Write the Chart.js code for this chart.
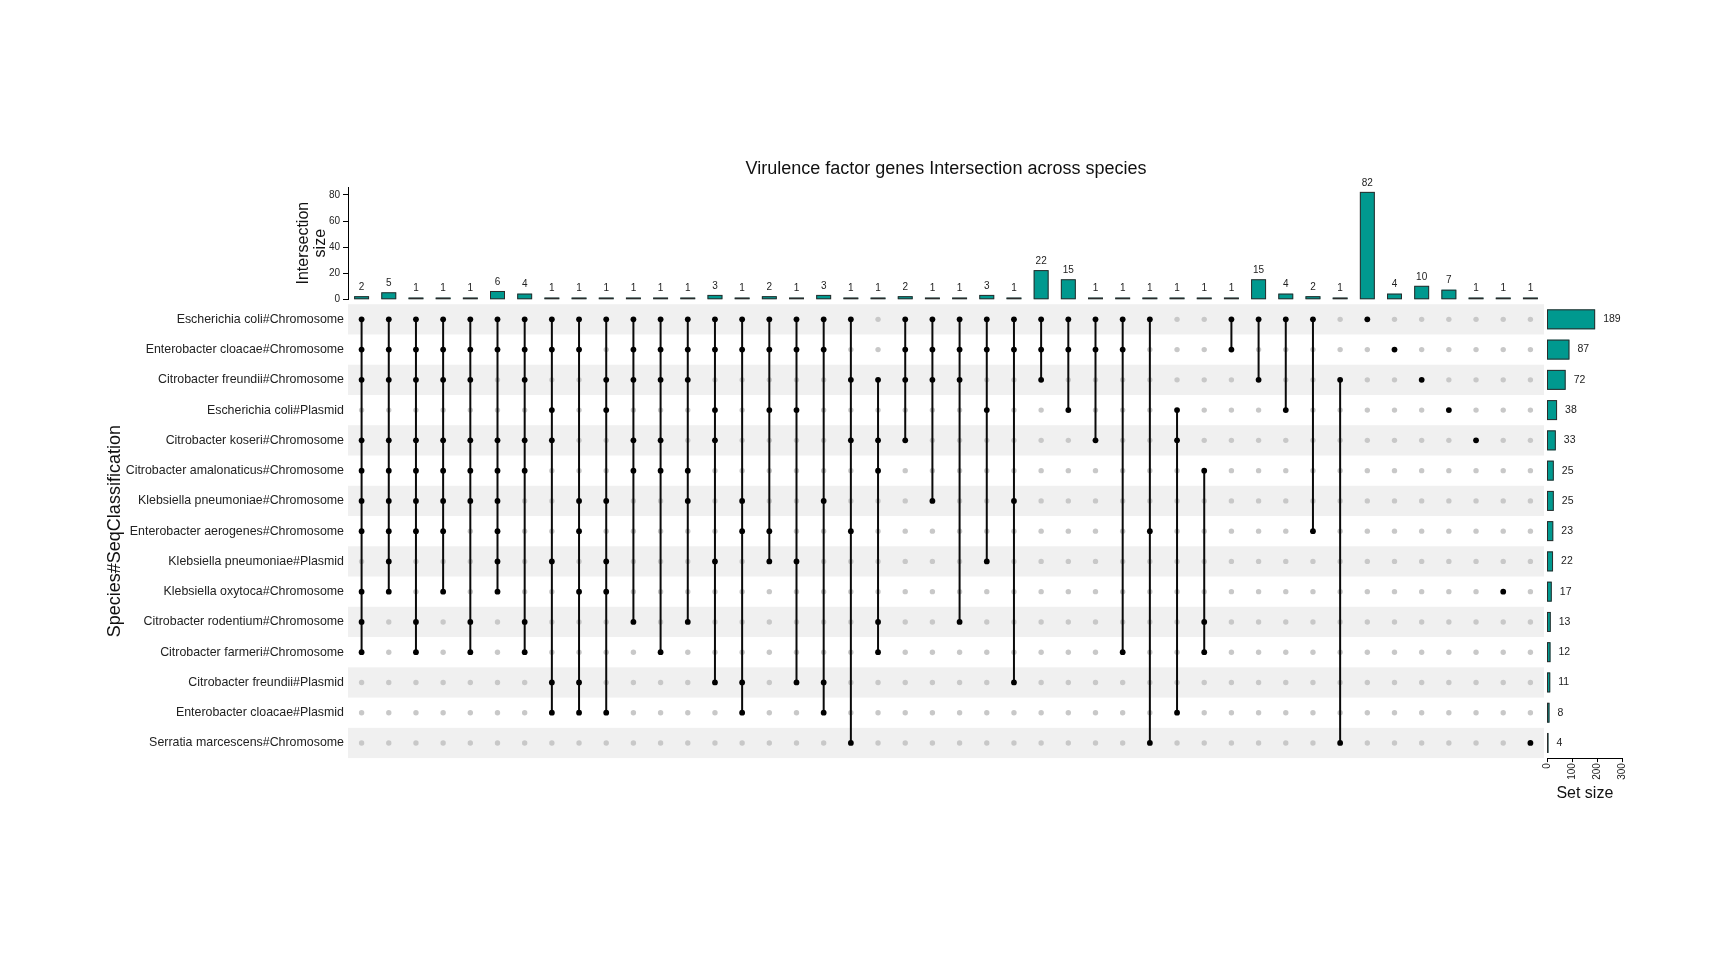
<!DOCTYPE html>
<html>
<head>
<meta charset="utf-8">
<script src="https://cdn.jsdelivr.net/npm/chart.js@4.4.1/dist/chart.umd.min.js"></script>
<style>
  html, body { margin: 0; padding: 0; background: #ffffff; }
  #wrap { position: relative; width: 1728px; height: 960px; overflow: hidden; }
  canvas { position: absolute; left: 0; top: 0; }
</style>
</head>
<body>
<div id="wrap">
  <canvas id="cMatrix" width="1728" height="960"></canvas>
  <canvas id="cTop" width="1728" height="960"></canvas>
  <canvas id="cSet" width="1728" height="960"></canvas>
</div>
<script>
// ---------------- DATA ----------------
const chartTitle = 'Virulence factor genes Intersection across species';
const setNames = [
  'Escherichia coli#Chromosome',
  'Enterobacter cloacae#Chromosome',
  'Citrobacter freundii#Chromosome',
  'Escherichia coli#Plasmid',
  'Citrobacter koseri#Chromosome',
  'Citrobacter amalonaticus#Chromosome',
  'Klebsiella pneumoniae#Chromosome',
  'Enterobacter aerogenes#Chromosome',
  'Klebsiella pneumoniae#Plasmid',
  'Klebsiella oxytoca#Chromosome',
  'Citrobacter rodentium#Chromosome',
  'Citrobacter farmeri#Chromosome',
  'Citrobacter freundii#Plasmid',
  'Enterobacter cloacae#Plasmid',
  'Serratia marcescens#Chromosome'
];
const setSizes = [189, 87, 72, 38, 33, 25, 25, 23, 22, 17, 13, 12, 11, 8, 4];
const intersectionSizes = [2, 5, 1, 1, 1, 6, 4, 1, 1, 1, 1, 1, 1, 3, 1, 2, 1, 3, 1, 1, 2, 1,
                           1, 3, 1, 22, 15, 1, 1, 1, 1, 1, 1, 15, 4, 2, 1, 82, 4, 10, 7, 1, 1, 1];
// indices into setNames for each intersection column (left to right)
const intersectionMembers = [
  [0,1,2,4,5,6,7,9,10,11], [0,1,2,4,5,6,7,8,9], [0,1,2,4,5,6,7,10,11], [0,1,2,4,5,6,7,9],
  [0,1,2,4,5,6,10,11], [0,1,4,5,6,7,8,9], [0,1,2,4,5,10,11], [0,1,3,4,8,12,13],
  [0,1,6,7,9,12,13], [0,2,3,6,8,9,13], [0,1,2,4,5,10], [0,1,2,4,5,11],
  [0,1,2,5,6,10], [0,1,3,4,8,12], [0,1,6,7,12,13], [0,1,3,7,8],
  [0,1,3,8,12], [0,1,6,12,13], [0,2,4,7,14], [2,4,5,10,11],
  [0,1,2,4], [0,1,2,6], [0,1,2,10], [0,1,3,8],
  [0,1,6,12], [0,1,2], [0,1,3], [0,1,4],
  [0,1,11], [0,7,14], [3,4,13], [5,10,11],
  [0,1], [0,2], [0,3], [0,7],
  [2,14], [0], [1], [2],
  [3], [4], [9], [14]
];
const intersectionTicks = [0, 20, 40, 60, 80];
const setSizeTicks = [0, 100, 200, 300];

// ---------------- STYLE ----------------
const FONT = '"Liberation Sans", Arial, Helvetica, sans-serif';
Chart.defaults.font.family = FONT;
Chart.defaults.color = '#222';
const TEAL = '#00998F';
const BORDER = '#2b2b2b';
const nCols = intersectionSizes.length;
const nRows = setNames.length;

// ---------------- PLUGINS ----------------
// outline every bar with a line centred on its edges (ggplot-like), then its value label
const topLabels = {
  id: 'topLabels',
  afterDatasetsDraw(chart) {
    const meta = chart.getDatasetMeta(0);
    const ctx = chart.ctx;
    ctx.save();
    ctx.strokeStyle = BORDER;
    ctx.lineWidth = 1;
    meta.data.forEach(el => {
      const p = el.getProps(['x', 'y', 'base', 'width'], true);
      ctx.strokeRect(p.x - p.width / 2, p.y, p.width, p.base - p.y);
    });
    ctx.font = '10px ' + FONT;
    ctx.fillStyle = '#222';
    ctx.textAlign = 'center';
    ctx.textBaseline = 'middle';
    meta.data.forEach((el, i) => {
      ctx.fillText(String(intersectionSizes[i]), el.x, el.y - 9.5);
    });
    ctx.restore();
  }
};

const setLabels = {
  id: 'setLabels',
  afterDatasetsDraw(chart) {
    const meta = chart.getDatasetMeta(0);
    const ctx = chart.ctx;
    ctx.save();
    ctx.strokeStyle = BORDER;
    ctx.lineWidth = 1;
    meta.data.forEach(el => {
      const p = el.getProps(['x', 'y', 'base', 'height'], true);
      ctx.strokeRect(p.base, p.y - p.height / 2, p.x - p.base, p.height);
    });
    ctx.font = '10.5px ' + FONT;
    ctx.fillStyle = '#222';
    ctx.textAlign = 'left';
    ctx.textBaseline = 'middle';
    meta.data.forEach((el, i) => {
      ctx.fillText(String(setSizes[i]), el.x + 8.5, el.y);
    });
    ctx.restore();
  }
};

const rowBands = {
  id: 'rowBands',
  beforeDatasetsDraw(chart) {
    const ctx = chart.ctx;
    const ys = chart.scales.y;
    const a = chart.chartArea;
    ctx.save();
    ctx.fillStyle = '#F0F0F0';
    for (let i = 0; i < nRows; i += 2) {
      const y1 = ys.getPixelForValue(i - 0.5);
      const y2 = ys.getPixelForValue(i + 0.5);
      ctx.fillRect(a.left, Math.min(y1, y2), a.right - a.left, Math.abs(y2 - y1));
    }
    ctx.restore();
  }
};

// ---------------- TOP BAR CHART ----------------
new Chart(document.getElementById('cTop'), {
  type: 'bar',
  data: {
    datasets: [{
      data: intersectionSizes.map((v, i) => ({ x: i + 1, y: v })),
      backgroundColor: TEAL,
      borderWidth: 0,
      barThickness: 14
    }]
  },
  plugins: [topLabels],
  options: {
    responsive: false,
    animation: false,
    layout: { autoPadding: false, padding: { left: 293, right: 184, top: 157.8, bottom: 660.7 } },
    plugins: {
      legend: { display: false },
      tooltip: { enabled: false },
      title: {
        display: true,
        text: chartTitle,
        fullSize: false,
        color: '#111',
        font: { size: 18, weight: 'normal', family: FONT },
        padding: { top: 0, bottom: 7.6 }
      }
    },
    scales: {
      x: { type: 'linear', min: 0.5, max: nCols + 0.5, display: false, offset: false },
      y: {
        type: 'linear', min: 0, max: 86.1,
        afterBuildTicks: s => { s.ticks = intersectionTicks.map(v => ({ value: v })); },
        afterFit: s => { s.width = 55; },
        ticks: { font: { size: 10 }, color: '#222', padding: 3 },
        grid: { drawOnChartArea: false, tickLength: 5, color: '#000' },
        border: { display: true, color: '#000', width: 1 },
        title: {
          display: true,
          text: ['Intersection', 'size'],
          color: '#111',
          font: { size: 16, lineHeight: 1.05 },
          padding: { top: 2, bottom: 0 }
        }
      }
    }
  }
});

// ---------------- MATRIX ----------------
const greyPts = [], blackPts = [], linePts = [];
intersectionMembers.forEach((mem, c) => {
  const x = c + 1;
  for (let r = 0; r < nRows; r++) {
    if (mem.includes(r)) blackPts.push({ x, y: r });
    else greyPts.push({ x, y: r });
  }
  if (mem.length > 1) {
    linePts.push({ x, y: Math.min(...mem) });
    linePts.push({ x, y: Math.max(...mem) });
    linePts.push({ x, y: null });
  }
});

new Chart(document.getElementById('cMatrix'), {
  type: 'scatter',
  data: {
    datasets: [
      { data: blackPts, pointRadius: 2.9, pointBackgroundColor: '#000', pointBorderWidth: 0, order: 1 },
      { data: linePts, showLine: true, spanGaps: false, borderColor: '#0a0a0a', borderWidth: 2,
        pointRadius: 0, order: 2 },
      { data: greyPts, pointRadius: 2.7, pointBackgroundColor: '#C8C8C8', pointBorderWidth: 0, order: 3 }
    ]
  },
  plugins: [rowBands],
  options: {
    responsive: false,
    animation: false,
    layout: { autoPadding: false, padding: { left: 100, right: 184, top: 304.2, bottom: 201.9 } },
    plugins: { legend: { display: false }, tooltip: { enabled: false } },
    scales: {
      x: { type: 'linear', min: 0.5, max: nCols + 0.5, display: false },
      y: {
        type: 'linear', min: -0.5, max: nRows - 0.5, reverse: true,
        afterBuildTicks: s => { s.ticks = setNames.map((_, i) => ({ value: i })); },
        afterFit: s => { s.width = 248; },
        ticks: {
          callback: v => setNames[v] || '',
          font: { size: 12.4 }, color: '#222', padding: 4, autoSkip: false
        },
        grid: { display: false, drawTicks: false },
        border: { display: false },
        title: {
          display: true,
          text: 'Species#SeqClassification',
          color: '#111',
          font: { size: 18 },
          padding: { top: 4, bottom: 0 }
        }
      }
    }
  }
});

// ---------------- SET SIZE BARS ----------------
new Chart(document.getElementById('cSet'), {
  type: 'bar',
  data: {
    labels: setNames,
    datasets: [{
      data: setSizes,
      backgroundColor: TEAL,
      borderWidth: 0,
      barThickness: 19
    }]
  },
  plugins: [setLabels],
  options: {
    indexAxis: 'y',
    responsive: false,
    animation: false,
    layout: { autoPadding: false, padding: { left: 1547, right: 105.3, top: 304.2, bottom: 153.9 } },
    plugins: { legend: { display: false }, tooltip: { enabled: false } },
    scales: {
      y: { type: 'category', display: false, offset: true },
      x: {
        type: 'linear', min: 0, max: 300,
        afterBuildTicks: s => { s.ticks = setSizeTicks.map(v => ({ value: v })); },
        afterFit: s => { s.height = 48; },
        ticks: { font: { size: 10 }, color: '#222', padding: 1, minRotation: 90, maxRotation: 90, autoSkip: false },
        grid: { drawOnChartArea: false, tickLength: 4, color: '#000' },
        border: { display: true, color: '#000', width: 1 },
        title: {
          display: true,
          text: 'Set size',
          color: '#111',
          font: { size: 16 },
          padding: { top: 0, bottom: 2.5 }
        }
      }
    }
  }
});
</script>
</body>
</html>
